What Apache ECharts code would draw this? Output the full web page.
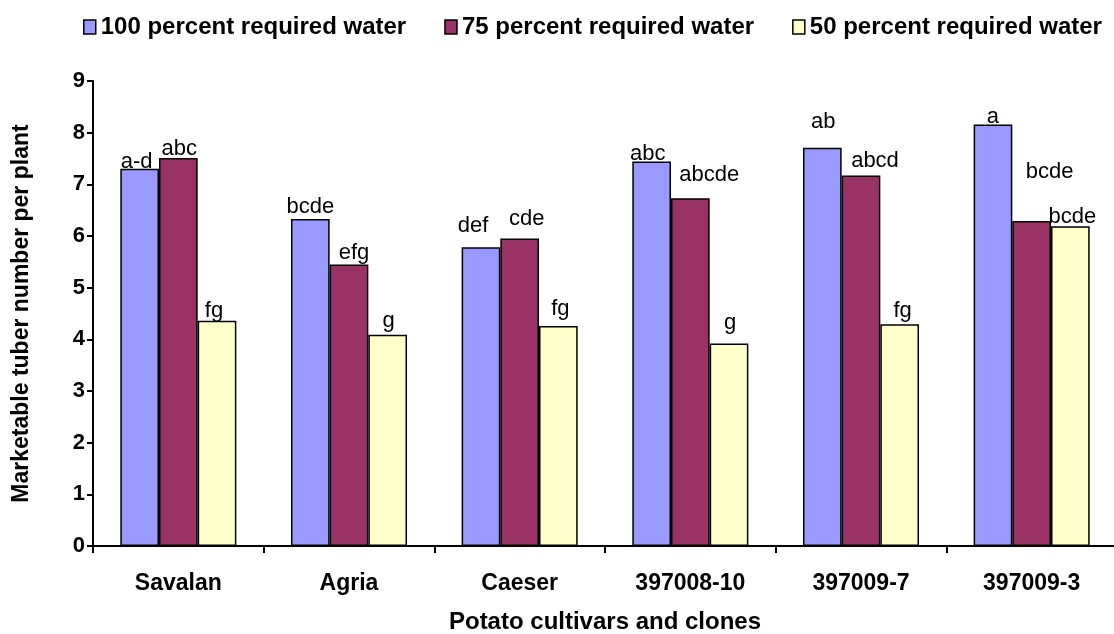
<!DOCTYPE html>
<html>
<head>
<meta charset="utf-8">
<script src="https://cdn.jsdelivr.net/npm/echarts@6/dist/echarts.min.js"></script>
<style>
    html, body { margin: 0; padding: 0; background: #fff; }
    #chart { width: 1114px; height: 634px; }
</style>
</head>
<body>
<div id="chart"></div>
<script>
    // 品种/无性系
    const categories = ['Savalan', 'Agria', 'Caeser', '397008-10', '397009-7', '397009-3'];
    const seriesNames = ['100 percent required water', '75 percent required water', '50 percent required water'];
    const yTicks = [0, 1, 2, 3, 4, 5, 6, 7, 8, 9];

    // 每株可销售块茎数
    const water100 = [7.30, 6.33, 5.78, 7.44, 7.71, 8.16];
    const water75 = [7.51, 5.45, 5.95, 6.73, 7.17, 6.29];
    const water50 = [4.36, 4.09, 4.26, 3.92, 4.29, 6.19];

    // 显著性字母
    const letters100 = ['a-d', 'bcde', 'def', 'abc', 'ab', 'a'];
    const letters75 = ['abc', 'efg', 'cde', 'abcde', 'abcd', 'bcde'];
    const letters50 = ['fg', 'g', 'fg', 'g', 'fg', 'bcde'];

    // label nudges (x, y) so the letters sit where the original put them
    const shift100 = [[-3, 4], [0, -1], [-8, -10], [-4, 3], [1, -15], [0, 4]];
    const shift75 = [[1, 2], [5, 0], [7, -9], [19, -12], [14, -4], [18, -38]];
    const shift50 = [[-3, 1], [1, -3], [2, -6], [1, -10], [3, -2], [2, 2]];

    const colors = ['#9999FF', '#993366', '#FFFFCC'];
    const font = 'Liberation Sans, Arial, sans-serif';

    function buildData(values, letters, shifts) {
        return values.map(function (v, i) {
            return {
                value: v,
                label: { formatter: letters[i], offset: shifts[i] }
            };
        });
    }

    function makeSeries(idx, values, letters, shifts) {
        return {
            name: seriesNames[idx],
            type: 'bar',
            barGap: '0%',
            barCategoryGap: '32%',
            itemStyle: { color: colors[idx], borderColor: '#000', borderWidth: 1.5 },
            label: {
                show: true,
                position: 'top',
                distance: 0,
                color: '#000',
                fontFamily: font,
                fontSize: 22
            },
            data: buildData(values, letters, shifts)
        };
    }

    const myChart = echarts.init(document.getElementById('chart'), null, { renderer: 'canvas' });
    const option = {
        animation: false,
        backgroundColor: '#fff',
        grid: { left: 93, top: 81, width: 1024, height: 465, containLabel: false, outerBoundsMode: 'none' },
        legend: {
            left: 78,
            top: 10,
            itemWidth: 12,
            itemHeight: 14,
            itemGap: 38,
            icon: 'rect',
            itemStyle: { borderColor: '#000', borderWidth: 1.5 },
            textStyle: { fontFamily: font, fontSize: 24, fontWeight: 'bold', color: '#000' },
            data: seriesNames
        },
        xAxis: {
            type: 'category',
            data: categories,
            name: 'Potato cultivars and clones',
            nameLocation: 'middle',
            nameGap: 64,
            nameTextStyle: { fontFamily: font, fontSize: 24, fontWeight: 'bold', color: '#000' },
            axisLine: { lineStyle: { color: '#000', width: 2 } },
            axisTick: { show: true, length: 7, lineStyle: { color: '#000', width: 2 } },
            axisLabel: { margin: 26, fontFamily: font, fontSize: 23, fontWeight: 'bold', color: '#000' }
        },
        yAxis: {
            type: 'value',
            min: yTicks[0],
            max: yTicks[yTicks.length - 1],
            interval: 1,
            name: 'Marketable tuber number per plant',
            nameLocation: 'middle',
            nameGap: 60,
            nameTextStyle: { fontFamily: font, fontSize: 23, fontWeight: 'bold', color: '#000' },
            axisLine: { show: true, lineStyle: { color: '#000', width: 2 } },
            axisTick: { show: true, length: 6, lineStyle: { color: '#000', width: 2 } },
            splitLine: { show: false },
            axisLabel: { margin: 8, fontFamily: font, fontSize: 22, fontWeight: 'bold', color: '#000' }
        },
        series: [
            makeSeries(0, water100, letters100, shift100),
            makeSeries(1, water75, letters75, shift75),
            makeSeries(2, water50, letters50, shift50)
        ]
    };
    myChart.setOption(option);
    window.addEventListener('resize', function () { myChart.resize(); });
</script>
</body>
</html>
